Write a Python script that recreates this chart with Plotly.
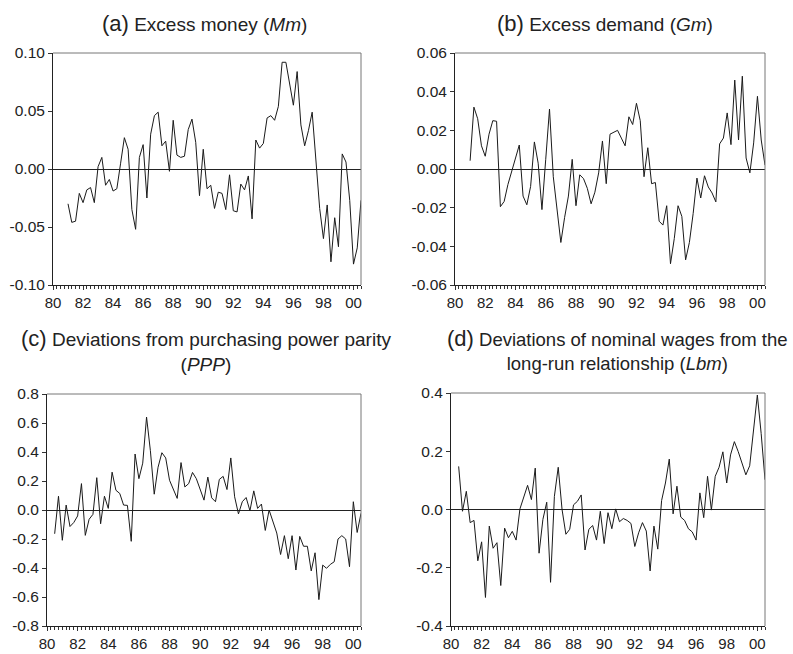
import pandas as pd
import plotly.graph_objects as go

# ---------------- data (quarterly) ----------------
mm_start = "1981Q1"
mm_values = [-0.030, -0.046, -0.045, -0.021, -0.029, -0.018, -0.016, -0.029, 0.002, 0.010,
             -0.014, -0.009, -0.019, -0.017, 0.005, 0.027, 0.017, -0.035, -0.052, 0.010,
             0.021, -0.025, 0.030, 0.046, 0.049, 0.020, 0.024, -0.002, 0.042, 0.012,
             0.010, 0.011, 0.034, 0.043, 0.023, -0.023, 0.017, -0.017, -0.014, -0.034,
             -0.020, -0.021, -0.035, -0.005, -0.036, -0.037, -0.013, -0.018, -0.006, -0.043,
             0.025, 0.018, 0.022, 0.044, 0.046, 0.042, 0.054, 0.092, 0.092, 0.074,
             0.055, 0.084, 0.038, 0.020, 0.033, 0.049, 0.008, -0.034, -0.060, -0.031,
             -0.080, -0.042, -0.067, 0.013, 0.006, -0.027, -0.082, -0.068, -0.027]

gm_start = "1981Q1"
gm_values = [0.0043, 0.032, 0.026, 0.012, 0.0066, 0.018, 0.025, 0.0247, -0.0195, -0.0168,
             -0.008, -0.001, 0.0055, 0.0124, -0.014, -0.0185, -0.009, 0.014, 0.003, -0.021,
             0.005, 0.031, -0.004, -0.021, -0.038, -0.025, -0.014, 0.005, -0.019, -0.003,
             -0.005, -0.010, -0.018, -0.012, -0.002, 0.0145, -0.0076, 0.018, 0.019, 0.020,
             0.016, 0.012, 0.027, 0.023, 0.034, 0.025, -0.004, 0.011, -0.0076, -0.007,
             -0.027, -0.029, -0.019, -0.049, -0.036, -0.019, -0.0245, -0.047, -0.038, -0.023,
             -0.0047, -0.015, -0.0035, -0.0093, -0.0124, -0.017, 0.013, 0.016, 0.029, 0.0126,
             0.046, 0.015, 0.048, 0.0057, -0.002, 0.0135, 0.0376, 0.015, 0.002]

ppp_start = "1980Q3"
ppp_values = [-0.164, 0.095, -0.209, 0.034, -0.114, -0.086, -0.041, 0.182, -0.175, -0.064,
              -0.030, 0.223, -0.095, 0.095, 0.011, 0.261, 0.136, 0.114, 0.034, 0.032,
              -0.216, 0.386, 0.216, 0.323, 0.641, 0.409, 0.109, 0.295, 0.395, 0.359,
              0.205, 0.148, 0.080, 0.327, 0.159, 0.182, 0.259, 0.216, 0.148, 0.068,
              0.227, 0.084, 0.057, 0.211, 0.232, 0.141, 0.359, 0.091, -0.027, 0.057,
              0.086, -0.005, 0.132, 0.011, 0.041, -0.141, 0.000, -0.080, -0.159, -0.307,
              -0.177, -0.336, -0.177, -0.414, -0.182, -0.250, -0.250, -0.420, -0.295, -0.618,
              -0.380, -0.402, -0.375, -0.357, -0.200, -0.177, -0.200, -0.391, 0.057, -0.155,
              -0.023]

lbm_start = "1980Q3"
lbm_values = [0.148, -0.006, 0.0625, -0.045, -0.0375, -0.176, -0.111, -0.302, -0.057, -0.133,
              -0.114, -0.261, -0.064, -0.097, -0.075, -0.105, 0.002, 0.045, 0.083, 0.034,
              0.142, -0.150, -0.034, 0.025, -0.250, 0.045, 0.145, 0.000, -0.085, -0.068,
              0.016, 0.028, 0.050, -0.139, -0.068, -0.055, -0.105, -0.006, -0.117, -0.011,
              -0.066, 0.002, -0.042, -0.031, -0.0375, -0.048, -0.127, -0.080, -0.045, -0.074,
              -0.211, -0.057, -0.136, 0.031, 0.091, 0.173, -0.015, 0.080, -0.026, -0.0375,
              -0.066, -0.077, -0.105, 0.057, -0.028, 0.114, -0.002, 0.114, 0.145, 0.198,
              0.091, 0.1875, 0.233, 0.199, 0.161, 0.119, 0.150, 0.273, 0.393, 0.261,
              0.102]

year_ticks = list(range(1980, 2001, 2))
year_labels = ["80", "82", "84", "86", "88", "90", "92", "94", "96", "98", "00"]

mm_yticks = [-0.10, -0.05, 0.00, 0.05, 0.10]
mm_ylabels = ["-0.10", "-0.05", "0.00", "0.05", "0.10"]
gm_yticks = [-0.06, -0.04, -0.02, 0.00, 0.02, 0.04, 0.06]
gm_ylabels = ["-0.06", "-0.04", "-0.02", "0.00", "0.02", "0.04", "0.06"]
ppp_yticks = [-0.8, -0.6, -0.4, -0.2, 0.0, 0.2, 0.4, 0.6, 0.8]
ppp_ylabels = ["-0.8", "-0.6", "-0.4", "-0.2", "0.0", "0.2", "0.4", "0.6", "0.8"]
lbm_yticks = [-0.4, -0.2, 0.0, 0.2, 0.4]
lbm_ylabels = ["-0.4", "-0.2", "0.0", "0.2", "0.4"]

titles = [
    "<span style='font-size:22px'>(a)</span> Excess money (<i>Mm</i>)",
    "<span style='font-size:22px'>(b)</span> Excess demand (<i>Gm</i>)",
    "<span style='font-size:22px'>(c)</span> Deviations from purchasing power parity<br>(<i>PPP</i>)",
    "<span style='font-size:22px'>(d)</span> Deviations of nominal wages from the<br>long-run relationship (<i>Lbm</i>)",
]

# ---------------- helpers ----------------
def qx(start, n):
    p = pd.period_range(start=start, periods=n, freq="Q")
    return [per.year + (per.quarter - 1) / 4 for per in p]

W, H = 793, 654
def fx(px):
    return px / W
def fy(py):
    return 1 - py / H

panels = [
    dict(data=(mm_start, mm_values), x=(53, 361), y=(53, 285), rng=(-0.10, 0.10), yt=(mm_yticks, mm_ylabels)),
    dict(data=(gm_start, gm_values), x=(455, 765), y=(53, 285), rng=(-0.06, 0.06), yt=(gm_yticks, gm_ylabels)),
    dict(data=(ppp_start, ppp_values), x=(47, 361), y=(394, 626), rng=(-0.8, 0.8), yt=(ppp_yticks, ppp_ylabels)),
    dict(data=(lbm_start, lbm_values), x=(451, 765), y=(393, 626), rng=(-0.4, 0.4), yt=(lbm_yticks, lbm_ylabels)),
]

FONT = "Liberation Sans, Arial, sans-serif"
TXT = "#222222"

fig = go.Figure()
layout = dict(
    width=W, height=H, margin=dict(l=0, r=0, t=0, b=0, pad=0), autosize=False,
    paper_bgcolor="white", plot_bgcolor="white", showlegend=False,
    font=dict(family=FONT, size=15, color=TXT),
)
shapes = []
for k, p in enumerate(panels):
    n = k + 1
    xs = qx(p["data"][0], len(p["data"][1]))
    fig.add_trace(go.Scatter(x=xs, y=p["data"][1], mode="lines",
                             line=dict(color="#1a1a1a", width=1),
                             xaxis=f"x{n}", yaxis=f"y{n}", hoverinfo="skip"))
    xa = "xaxis" if n == 1 else f"xaxis{n}"
    ya = "yaxis" if n == 1 else f"yaxis{n}"
    layout[xa] = dict(
        domain=[fx(p["x"][0]), fx(p["x"][1])], anchor=f"y{n}", automargin=False,
        range=[1980, 2000.5], tickmode="array", tickvals=year_ticks, ticktext=year_labels,
        ticks="outside", ticklen=4, tickcolor="#333", tickwidth=1,
        minor=dict(dtick=0.25, tick0=1980, ticks="outside", ticklen=3, tickcolor="#333", tickwidth=1),
        showline=True, linecolor="#222", linewidth=1, showgrid=False, zeroline=False,
        tickfont=dict(size=15, color=TXT), fixedrange=True,
    )
    layout[ya] = dict(
        domain=[fy(p["y"][1]), fy(p["y"][0])], anchor=f"x{n}", automargin=False,
        range=list(p["rng"]), tickmode="array", tickvals=p["yt"][0], ticktext=p["yt"][1],
        ticks="outside", ticklen=4, tickcolor="#333", tickwidth=1,
        showline=True, linecolor="#222", linewidth=1, showgrid=False,
        zeroline=True, zerolinecolor="#222", zerolinewidth=1,
        tickfont=dict(size=15.5, color=TXT), fixedrange=True,
    )
    xref = "x" if n == 1 else f"x{n}"
    yref = "y" if n == 1 else f"y{n}"
    shapes.append(dict(type="line", xref=f"{xref} domain", yref=f"{yref} domain",
                       x0=0, x1=1, y0=1, y1=1, line=dict(color="#777", width=1)))
    shapes.append(dict(type="line", xref=f"{xref} domain", yref=f"{yref} domain",
                       x0=1, x1=1, y0=0, y1=1, line=dict(color="#777", width=1)))

annotations = [
    dict(text=titles[0], x=fx(204), y=fy(23), xref="paper", yref="paper",
         xanchor="center", yanchor="middle", showarrow=False, font=dict(size=19, color=TXT)),
    dict(text=titles[1], x=fx(605), y=fy(23), xref="paper", yref="paper",
         xanchor="center", yanchor="middle", showarrow=False, font=dict(size=19, color=TXT)),
    dict(text=titles[2], x=fx(206), y=fy(350), xref="paper", yref="paper",
         xanchor="center", yanchor="middle", showarrow=False, font=dict(size=19, color=TXT)),
    dict(text=titles[3], x=fx(617), y=fy(350), xref="paper", yref="paper",
         xanchor="center", yanchor="middle", showarrow=False, font=dict(size=18.5, color=TXT)),
]
layout["shapes"] = shapes
layout["annotations"] = annotations
fig.update_layout(**layout)
fig.write_html("out.html", config={"responsive": False, "displayModeBar": False},
               post_script="document.body.style.margin='0';document.body.style.overflow='hidden';")
